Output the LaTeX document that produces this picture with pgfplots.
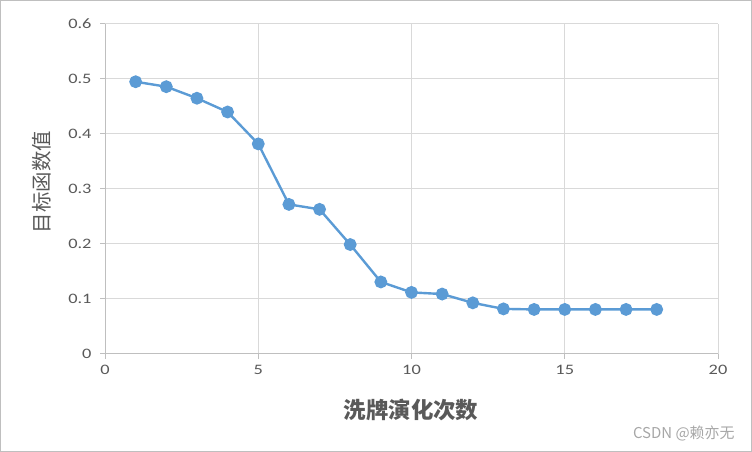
\documentclass[border=0pt]{standalone}
\usepackage{fontspec}
\setmainfont{Carlito}
\newfontfamily\cjk{Noto Sans CJK SC}
\newfontfamily\tickfont[FakeStretch=1.27]{Carlito}
\usepackage{pgfplots}
\pgfplotsset{compat=1.18}
\definecolor{linec}{HTML}{5B9BD5}
\definecolor{gridc}{HTML}{D9D9D9}
\definecolor{axisc}{HTML}{BFBFBF}
\definecolor{txtc}{HTML}{595959}
\newcommand{\tl}{\tickfont\fontsize{14.5}{17}\selectfont}
\begin{document}
\begin{tikzpicture}[x=1bp,y=1bp]
\draw[color=axisc, line width=1bp] (0.5,0.5) rectangle (751.5,451.5);
\begin{axis}[
  at={(105bp,98bp)}, anchor=south west,
  scale only axis, width=613bp, height=330bp,
  xmin=0, xmax=20, ymin=0, ymax=0.6,
  xtick={0,5,10,15,20}, ytick={0,0.1,0.2,0.3,0.4,0.5,0.6},
  xticklabels={\tl 0,\tl 5,\tl 10,\tl 15,\tl 20},
  yticklabels={\tl 0,\tl 0.1,\tl 0.2,\tl 0.3,\tl 0.4,\tl 0.5,\tl 0.6},
  axis x line*=bottom, axis y line*=left,
  axis line style={color=axisc, line width=1bp, -},
  grid=major, major grid style={color=gridc, line width=1bp},
  tick align=outside, major tick length=5bp,
  tick style={color=axisc, line width=1bp},
  every tick label/.append style={text=txtc},
  xticklabel style={yshift=-3bp},
  yticklabel style={xshift=-5bp},
  clip=false,
]
\addplot[color=linec, line width=2.4bp, mark=*, mark size=5.2bp, mark options={solid, fill=linec, draw=none}]
coordinates {
(1,0.495) (2,0.486) (3,0.465) (4,0.440) (5,0.382) (6,0.272) (7,0.263) (8,0.199) (9,0.131) (10,0.112) (11,0.109) (12,0.093) (13,0.082) (14,0.081) (15,0.081) (16,0.081) (17,0.081) (18,0.081)
};
\end{axis}
\node[rotate=90, text=txtc, font=\cjk\fontsize{20.5}{22}\selectfont] at (42bp,270bp) {目标函数值};
\node[text=txtc, font=\cjk\bfseries\fontsize{22.5}{25}\selectfont] at (411bp,42bp) {洗牌演化次数};
\node[text=black!35, font=\cjk\fontsize{15}{17}\selectfont, anchor=east] at (738bp,19bp) {CSDN @赖亦无};
\end{tikzpicture}
\end{document}
